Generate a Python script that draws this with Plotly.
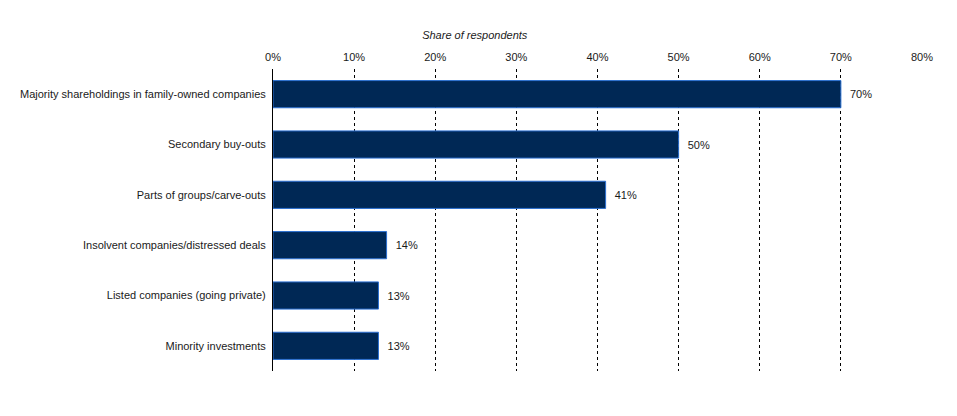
import plotly.graph_objects as go

# Deal types and share of respondents (%)
categories = [
    'Majority shareholdings in family-owned companies',
    'Secondary buy-outs',
    'Parts of groups/carve-outs',
    'Insolvent companies/distressed deals',
    'Listed companies (going private)',
    'Minority investments',
]
shares = [70, 50, 41, 14, 13, 13]
tick_values = [0, 10, 20, 30, 40, 50, 60, 70, 80]
tick_labels = [f'{v}%' for v in tick_values]

font = dict(family='Liberation Sans, Arial, sans-serif', size=11, color='#1a1a1a')

# page body has an 8px margin, so the figure is sized to fit inside it
fig = go.Figure(go.Bar(
    x=shares,
    y=categories,
    orientation='h',
    width=0.54,
    marker=dict(color='#002855', line=dict(color='#2a6fd1', width=1)),
    text=[f'\u00a0\u00a0{v}%' for v in shares],
    textposition='outside',
    textfont=font,
    cliponaxis=False,
    hoverinfo='skip',
))

fig.update_layout(
    width=941, height=400,
    margin=dict(l=261, r=27, t=61, b=37),
    paper_bgcolor='white',
    plot_bgcolor='white',
    font=font,
    showlegend=False,
    title=dict(text='<i>Share of respondents</i>', x=0.496, xanchor='center',
               y=1 - 27 / 400, yanchor='middle', font=font),
    xaxis=dict(
        side='top',
        range=[0, 80],
        tickvals=tick_values,
        ticktext=tick_labels,
        showgrid=True,
        gridcolor='black',
        griddash='dot',
        gridwidth=1,
        zeroline=False,
        showline=False,
        ticks='',
        ticklabelstandoff=5,
        fixedrange=True,
    ),
    yaxis=dict(
        autorange='reversed',
        showline=True,
        linecolor='black',
        linewidth=1,
        ticks='',
        ticklabelstandoff=4,
        showgrid=False,
        fixedrange=True,
    ),
)

fig.write_html('out.html')
